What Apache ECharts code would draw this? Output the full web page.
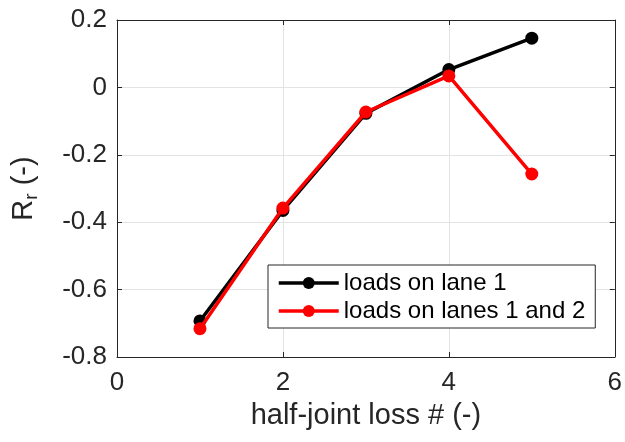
<!DOCTYPE html>
<html>
<head>
<meta charset="utf-8">
<script src="https://cdn.jsdelivr.net/npm/echarts@6/dist/echarts.min.js"></script>
<style>
  html, body { margin: 0; padding: 0; background: #fff; }
  #chart { width: 625px; height: 442px; }
</style>
</head>
<body>
<div id="chart"></div>
<script>
// 数据：半接缝损失编号与 R_r
const halfJointLoss = [1, 2, 3, 4, 5]
const loadsLane1 = [-0.693, -0.365, -0.077, 0.053, 0.146]
const loadsLanes12 = [-0.716, -0.358, -0.073, 0.034, -0.257]
const seriesNames = ['loads on lane 1', 'loads on lanes 1 and 2']

const FONT = '"Liberation Sans", Arial, sans-serif'
const AXIS_COLOR = '#262626'
const GRID_COLOR = '#e3e3e3'

const chart = echarts.init(document.getElementById('chart'))

// 上方/右侧的辅助轴：只画框线和朝内的刻度
function boxAxis(extra) {
  return Object.assign({
    type: 'value',
    axisLine: { show: true, onZero: false, lineStyle: { color: AXIS_COLOR, width: 1 } },
    axisTick: { show: true, inside: true, length: 5, lineStyle: { color: AXIS_COLOR } },
    axisLabel: { show: false },
    splitLine: { show: false },
  }, extra)
}

const toPairs = (ys) => halfJointLoss.map((x, i) => [x, ys[i]])

chart.setOption({
  animation: false,
  textStyle: { fontFamily: FONT },
  grid: { left: 117, right: 5, top: 20, bottom: 85 },
  xAxis: [
    {
      type: 'value',
      min: 0, max: 6, interval: 2,
      name: 'half-joint loss # (-)',
      nameLocation: 'middle',
      nameGap: 44,
      nameTextStyle: { fontSize: 29, color: AXIS_COLOR, fontFamily: FONT },
      axisLine: { show: true, onZero: false, lineStyle: { color: AXIS_COLOR, width: 1 } },
      axisTick: { show: true, inside: true, length: 5, lineStyle: { color: AXIS_COLOR } },
      axisLabel: { fontSize: 26, color: AXIS_COLOR, margin: 13, fontFamily: FONT },
      splitLine: { show: true, lineStyle: { color: GRID_COLOR, width: 1 } },
    },
    boxAxis({ min: 0, max: 6, interval: 2, position: 'top' }),
  ],
  yAxis: [
    {
      type: 'value',
      min: -0.8, max: 0.2, interval: 0.2,
      name: '{a|R}{b|r}{a| (-)}',
      nameLocation: 'middle',
      nameGap: 76,
      nameTextStyle: {
        color: AXIS_COLOR,
        fontFamily: FONT,
        rich: {
          a: { fontSize: 29, color: AXIS_COLOR, fontFamily: FONT },
          b: { fontSize: 19, color: AXIS_COLOR, fontFamily: FONT, padding: [16, 0, 0, 0] },
        },
      },
      axisLine: { show: true, onZero: false, lineStyle: { color: AXIS_COLOR, width: 1 } },
      axisTick: { show: true, inside: true, length: 5, lineStyle: { color: AXIS_COLOR } },
      axisLabel: {
        fontSize: 26, color: AXIS_COLOR, margin: 10, fontFamily: FONT,
        formatter: (v) => (Math.abs(v) < 1e-9 ? '0' : String(Math.round(v * 10) / 10)),
      },
      splitLine: { show: true, lineStyle: { color: GRID_COLOR, width: 1 } },
    },
    boxAxis({ min: -0.8, max: 0.2, interval: 0.2, position: 'right' }),
  ],
  legend: {
    orient: 'vertical',
    left: 268,
    top: 265,
    padding: [6, 10, 5, 9],
    itemGap: 4,
    itemWidth: 60,
    itemHeight: 15,
    backgroundColor: '#fff',
    borderColor: AXIS_COLOR,
    borderWidth: 1,
    lineStyle: { width: 3.5 },
    textStyle: { fontSize: 24, color: '#000', fontFamily: FONT },
    data: seriesNames,
  },
  series: [
    {
      name: seriesNames[0],
      type: 'line',
      data: toPairs(loadsLane1),
      symbol: 'circle',
      symbolSize: 13,
      lineStyle: { color: '#000', width: 3.5 },
      itemStyle: { color: '#000' },
      z: 2,
    },
    {
      name: seriesNames[1],
      type: 'line',
      data: toPairs(loadsLanes12),
      symbol: 'circle',
      symbolSize: 13,
      lineStyle: { color: '#ff0000', width: 3.5 },
      itemStyle: { color: '#ff0000' },
      z: 3,
    },
  ],
})
</script>
</body>
</html>
